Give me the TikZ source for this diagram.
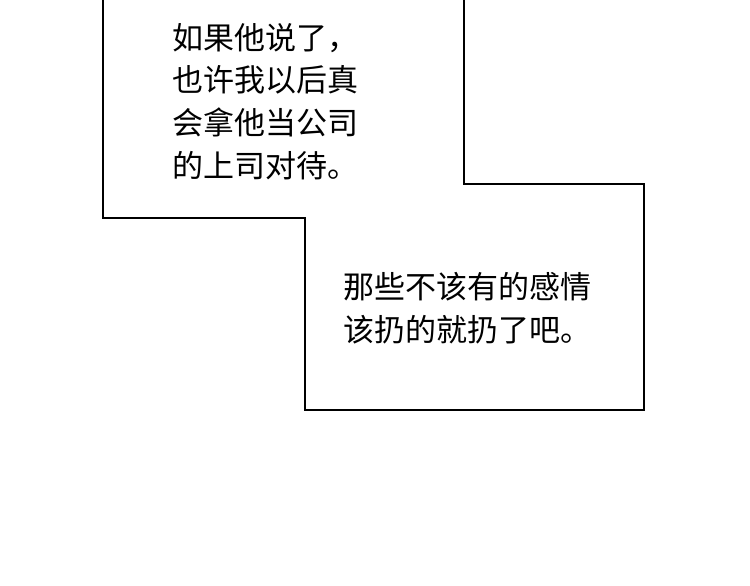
\documentclass[tikz,border=0pt]{standalone}
\usepackage{fontspec}
\newfontfamily\cjk{Noto Sans CJK SC}
\begin{document}
\begin{tikzpicture}[x=1pt,y=-1pt,
  txt/.style={anchor=base west,inner sep=0pt,font=\cjk\fontsize{31}{31}\selectfont}]
\useasboundingbox (0,0) rectangle (750,586);
\fill[white] (0,0) rectangle (750,586);
\draw[line width=2.2pt,line join=miter] (103,-5) -- (103,218) -- (305,218) -- (305,410) -- (644,410) -- (644,184) -- (464,184) -- (464,-5);
\node[txt] (a1) at (172,50) {如果他说了，};
\node[txt] (a2) at (172,92) {也许我以后真};
\node[txt] (a3) at (172,134) {会拿他当公司};
\node[txt] (a4) at (172,177) {的上司对待。};
\node[txt] (b1) at (343,298) {那些不该有的感情};
\node[txt] (b2) at (343,341) {该扔的就扔了吧。};
\end{tikzpicture}
\end{document}
